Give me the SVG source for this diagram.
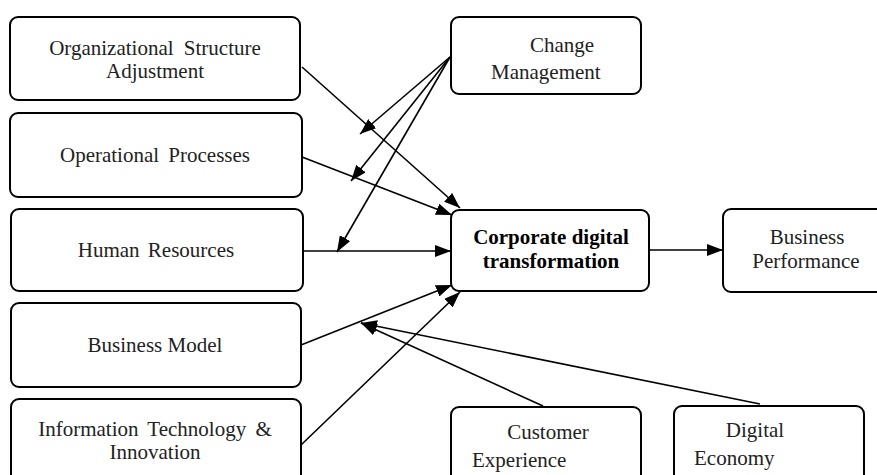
<svg xmlns="http://www.w3.org/2000/svg" width="877" height="475" viewBox="0 0 877 475">
<style>
.box{fill:#fff;stroke:#000;stroke-width:2}
text{font-family:"Liberation Serif","Times New Roman","DejaVu Serif",serif;font-size:21px;fill:#222}
.c{text-anchor:middle}
.b{font-weight:bold;fill:#000}
.ln{stroke:#000;stroke-width:1.6;fill:none;marker-end:url(#ah)}
</style>
<defs>
<marker id="ah" markerUnits="userSpaceOnUse" markerWidth="17" markerHeight="12" refX="16" refY="6" orient="auto">
<path d="M0,0 L16,6 L0,12 Z" fill="#000"/>
</marker>
</defs>
<rect width="877" height="475" fill="#fff"/>
<g id="org">
<rect class="box" x="10" y="17" width="290" height="83" rx="8"/>
<text class="c" x="155" y="55" word-spacing="5">Organizational Structure</text>
<text class="c" x="155" y="78">Adjustment</text>
</g>
<g id="ops">
<rect class="box" x="10" y="113" width="292" height="84" rx="8"/>
<text class="c" x="155" y="162" word-spacing="4">Operational Processes</text>
</g>
<g id="hr">
<rect class="box" x="11" y="209" width="292" height="82" rx="8"/>
<text class="c" x="156" y="257" word-spacing="3">Human Resources</text>
</g>
<g id="bm">
<rect class="box" x="11" y="303" width="290" height="84" rx="8"/>
<text class="c" x="155" y="352">Business Model</text>
</g>
<g id="it">
<rect class="box" x="11" y="399" width="290" height="90" rx="8"/>
<text class="c" x="155" y="436" word-spacing="4">Information Technology &amp;</text>
<text class="c" x="155" y="459">Innovation</text>
</g>
<g id="cm">
<rect class="box" x="451" y="17" width="190" height="77" rx="8"/>
<text class="c" x="562" y="52">Change</text>
<text x="491" y="79">Management</text>
</g>
<g id="cdt">
<rect class="box" x="451" y="210" width="198" height="81" rx="8"/>
<text class="c b" x="551" y="244">Corporate digital</text>
<text class="c b" x="551" y="268">transformation</text>
</g>
<g id="bp">
<rect class="box" x="723" y="209" width="170" height="83" rx="8"/>
<text class="c" x="807" y="244">Business</text>
<text class="c" x="806" y="268">Performance</text>
</g>
<g id="ce">
<rect class="box" x="451" y="407" width="190" height="90" rx="8"/>
<text class="c" x="548" y="439">Customer</text>
<text x="472" y="467">Experience</text>
</g>
<g id="de">
<rect class="box" x="674" y="406" width="190" height="90" rx="8"/>
<text class="c" x="755" y="437">Digital</text>
<text x="694" y="465">Economy</text>
</g>
<g id="connectors">
<line class="ln" x1="302" y1="67" x2="460" y2="208"/>
<line class="ln" x1="302" y1="157" x2="452" y2="215"/>
<line class="ln" x1="303" y1="251" x2="451" y2="251"/>
<line class="ln" x1="301" y1="345" x2="452" y2="285"/>
<line class="ln" x1="301" y1="445" x2="460" y2="292"/>
<line class="ln" x1="450" y1="57" x2="360" y2="134"/>
<line class="ln" x1="450" y1="57" x2="351" y2="181"/>
<line class="ln" x1="450" y1="57" x2="337" y2="252"/>
<line class="ln" x1="649" y1="250" x2="723" y2="250"/>
<line class="ln" x1="543" y1="406" x2="361" y2="323"/>
<line class="ln" x1="760" y1="404" x2="361" y2="323"/>
</g>
</svg>
